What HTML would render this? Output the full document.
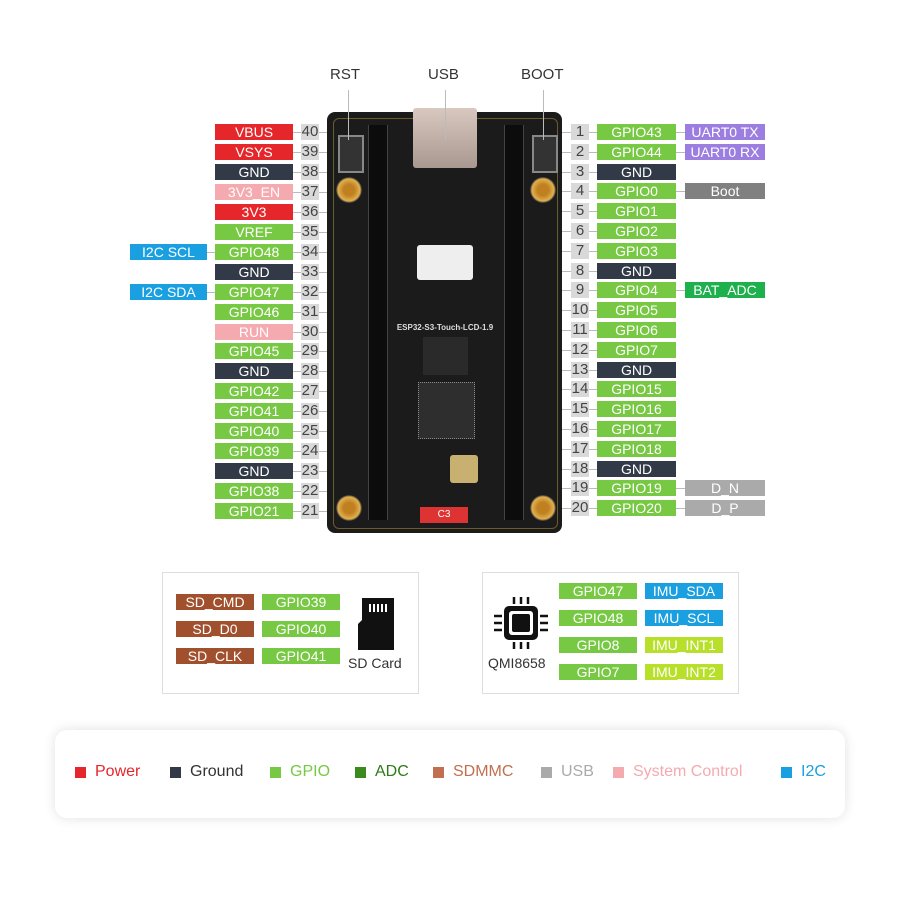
<!DOCTYPE html>
<html><head><meta charset="utf-8"><style>
body{margin:0;width:900px;height:900px;background:#fff;position:relative;overflow:hidden;font-family:"Liberation Sans","DejaVu Sans",sans-serif}
.b{position:absolute;height:16px;line-height:16px;font-size:14px;color:#fff;text-align:center;white-space:nowrap}
.n{position:absolute;height:16px;line-height:16px;font-size:15px;color:#444;text-align:center;background:#d9d9d9;width:18px}
.l{position:absolute;height:1px;background:#bbb}
.abs{position:absolute}
</style></head><body>
<!-- legend bg -->
<div class="abs" style="left:55px;top:730px;width:790px;height:88px;background:#fff;border-radius:12px;box-shadow:0 0 12px rgba(0,0,0,0.12)"></div>
<!-- board -->
<div class="abs" style="left:327px;top:112px;width:235px;height:421px;background:#1b1b1b;border-radius:8px"></div>
<div class="abs" style="left:333px;top:118px;width:223px;height:409px;border:1px solid #6b5a2a;border-radius:6px"></div>
<div class="abs" style="left:368px;top:125px;width:18px;height:395px;background:#0c0c0c;border-left:1px solid #444;border-right:1px solid #444"></div>
<div class="abs" style="left:504px;top:125px;width:18px;height:395px;background:#0c0c0c;border-left:1px solid #444;border-right:1px solid #444"></div>
<div class="abs" style="left:413px;top:108px;width:64px;height:60px;background:linear-gradient(#d8c8c0,#a89890);border-radius:3px"></div>
<div class="abs" style="left:338px;top:135px;width:22px;height:34px;background:#333;border:2px solid #888"></div>
<div class="abs" style="left:532px;top:135px;width:22px;height:34px;background:#333;border:2px solid #888"></div>
<div class="abs" style="left:336px;top:177px;width:26px;height:26px;border-radius:50%;background:radial-gradient(#c08020 30%,#e0b050 60%,#333 70%)"></div>
<div class="abs" style="left:530px;top:177px;width:26px;height:26px;border-radius:50%;background:radial-gradient(#c08020 30%,#e0b050 60%,#333 70%)"></div>
<div class="abs" style="left:336px;top:495px;width:26px;height:26px;border-radius:50%;background:radial-gradient(#c08020 30%,#e0b050 60%,#333 70%)"></div>
<div class="abs" style="left:530px;top:495px;width:26px;height:26px;border-radius:50%;background:radial-gradient(#c08020 30%,#e0b050 60%,#333 70%)"></div>
<div class="abs" style="left:417px;top:245px;width:56px;height:35px;background:#eee;border-radius:3px"></div>
<div class="abs" style="left:423px;top:337px;width:45px;height:38px;background:#2a2a2a"></div>
<div class="abs" style="left:418px;top:382px;width:55px;height:55px;background:#2e2e2e;border:1px dotted #888"></div>
<div class="abs" style="left:450px;top:455px;width:28px;height:28px;background:#c8b070;border-radius:3px"></div>
<div class="abs" style="left:420px;top:507px;width:48px;height:16px;background:#d33;color:#fff;font-size:10px;text-align:center;line-height:16px">C3</div>
<div class="abs" style="left:380px;top:323px;width:130px;color:#ddd;font-size:8px;font-weight:bold;text-align:center">ESP32-S3-Touch-LCD-1.9</div>
<div class="abs" style="left:330px;top:66px;font-size:15px;color:#333">RST</div>
<div class="abs" style="left:428px;top:66px;font-size:15px;color:#333">USB</div>
<div class="abs" style="left:521px;top:66px;font-size:15px;color:#333">BOOT</div>
<div class="abs" style="left:348px;top:90px;width:1px;height:50px;background:#bbb"></div>
<div class="abs" style="left:445px;top:90px;width:1px;height:50px;background:#bbb"></div>
<div class="abs" style="left:543px;top:90px;width:1px;height:50px;background:#bbb"></div>

<!-- SD box -->
<div class="abs" style="left:162px;top:572px;width:255px;height:120px;border:1px solid #ddd"></div>
<div class="b" style="left:176px;top:594px;width:78px;background:#a0502c">SD_CMD</div>
<div class="b" style="left:176px;top:621px;width:78px;background:#a0502c">SD_D0</div>
<div class="b" style="left:176px;top:648px;width:78px;background:#a0502c">SD_CLK</div>
<div class="b" style="left:262px;top:594px;width:78px;background:#77c843">GPIO39</div>
<div class="b" style="left:262px;top:621px;width:78px;background:#77c843">GPIO40</div>
<div class="b" style="left:262px;top:648px;width:78px;background:#77c843">GPIO41</div>
<svg class="abs" style="left:356px;top:598px" width="44" height="52"><path d="M6 0H38V52H2V26L6 22Z" fill="#111"/><g fill="#fff"><rect x="13" y="6" width="2" height="8"/><rect x="17" y="6" width="2" height="8"/><rect x="21" y="6" width="2" height="8"/><rect x="25" y="6" width="2" height="8"/><rect x="29" y="6" width="2" height="8"/></g></svg>
<div class="abs" style="left:348px;top:655px;font-size:14px;color:#333">SD Card</div>
<!-- QMI box -->
<div class="abs" style="left:482px;top:572px;width:255px;height:120px;border:1px solid #ddd"></div>
<svg class="abs" style="left:492px;top:597px" width="58" height="52"><rect x="12" y="9" width="34" height="34" rx="5" fill="#111"/><rect x="17" y="14" width="24" height="24" rx="3" fill="#fff"/><rect x="20" y="17" width="18" height="18" rx="2" fill="#111"/><g stroke="#111" stroke-width="2.5"><path d="M22 0v7M29 0v7M36 0v7M22 45v7M29 45v7M36 45v7M2 19h8M2 26h8M2 33h8M48 19h8M48 26h8M48 33h8"/></g></svg>
<div class="abs" style="left:488px;top:655px;font-size:14px;color:#333">QMI8658</div>
<div class="b" style="left:559px;top:583px;width:78px;background:#77c843">GPIO47</div>
<div class="b" style="left:559px;top:610px;width:78px;background:#77c843">GPIO48</div>
<div class="b" style="left:559px;top:637px;width:78px;background:#77c843">GPIO8</div>
<div class="b" style="left:559px;top:664px;width:78px;background:#77c843">GPIO7</div>
<div class="b" style="left:645px;top:583px;width:78px;background:#1aa0e0">IMU_SDA</div>
<div class="b" style="left:645px;top:610px;width:78px;background:#1aa0e0">IMU_SCL</div>
<div class="b" style="left:645px;top:637px;width:78px;background:#b8e02a">IMU_INT1</div>
<div class="b" style="left:645px;top:664px;width:78px;background:#b8e02a">IMU_INT2</div>
<div id="root"></div>
<script>
var R='#e5262b',D='#333a47',G='#77c843',P='#f4aaae',B='#1aa0e0',U='#9b7ee0',Y='#808080',A='#1db04d',S='#aaaaaa';
var left=[['VBUS',R],['VSYS',R],['GND',D],['3V3_EN',P],['3V3',R],['VREF',G],['GPIO48',G,'I2C SCL',B],['GND',D],['GPIO47',G,'I2C SDA',B],['GPIO46',G],['RUN',P],['GPIO45',G],['GND',D],['GPIO42',G],['GPIO41',G],['GPIO40',G],['GPIO39',G],['GND',D],['GPIO38',G],['GPIO21',G]];
var right=[['GPIO43',G,'UART0 TX',U],['GPIO44',G,'UART0 RX',U],['GND',D],['GPIO0',G,'Boot',Y],['GPIO1',G],['GPIO2',G],['GPIO3',G],['GND',D],['GPIO4',G,'BAT_ADC',A],['GPIO5',G],['GPIO6',G],['GPIO7',G],['GND',D],['GPIO15',G],['GPIO16',G],['GPIO17',G],['GPIO18',G],['GND',D],['GPIO19',G,'D_N',S],['GPIO20',G,'D_P',S]];
var h='';
function box(x,y,w,t,c){h+='<div class="b" style="left:'+x+'px;top:'+y+'px;width:'+w+'px;background:'+c+'">'+t+'</div>';}
function ln(x,y,w){h+='<div class="l" style="left:'+x+'px;top:'+y+'px;width:'+w+'px"></div>';}
left.forEach(function(r,i){var y=Math.round(124+i*19.95);
 ln(293,y+8,34);box(215,y,78,r[0],r[1]);h+='<div class="n" style="left:301px;top:'+y+'px">'+(40-i)+'</div>';
 if(r[2]){ln(207,y+8,8);box(130,y,77,r[2],r[3]);}});
right.forEach(function(r,i){var y=Math.round(124+i*19.8);
 ln(562,y+8,35);h+='<div class="n" style="left:571px;top:'+y+'px">'+(i+1)+'</div>';box(597,y,79,r[0],r[1]);
 if(r[2]){ln(676,y+8,9);box(685,y,80,r[2],r[3]);}});
var lg=[['Power',R,75,'#e5262b'],['Ground',D,170,'#333'],['GPIO',G,270,'#77c843'],['ADC','#3a8a1e',355,'#2d7a18'],['SDMMC','#c07050',433,'#c07050'],['USB',S,541,'#aaa'],['System Control',P,613,'#f4aaae'],['I2C',B,781,'#1aa0e0']];
lg.forEach(function(e){h+='<div class="abs" style="left:'+e[2]+'px;top:767px;width:11px;height:11px;background:'+e[1]+'"></div><div class="abs" style="left:'+(e[2]+20)+'px;top:763px;font-size:16px;color:'+e[3]+'">'+e[0]+'</div>';});
document.getElementById('root').innerHTML=h;
</script>
</body></html>
